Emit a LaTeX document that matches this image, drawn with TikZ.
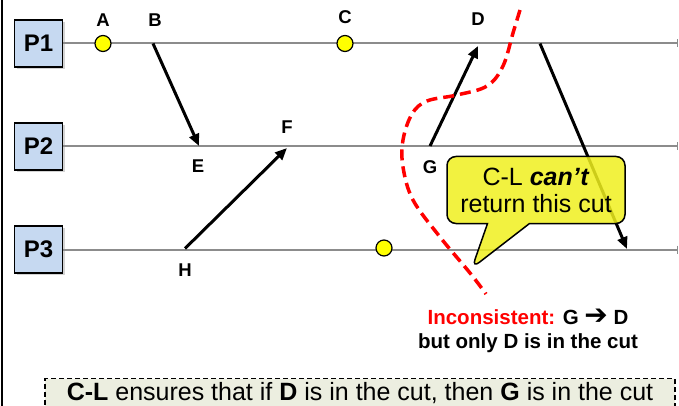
\documentclass[tikz,border=0pt]{standalone}
\usepackage{fontspec}
\setmainfont{Liberation Sans}
\newfontfamily\arrowfont{DejaVu Sans}
\usetikzlibrary{arrows.meta,shapes.callouts,shadows}
\definecolor{CLBlue}  {HTML}{C6D9F1}
\definecolor{CLYellow}{HTML}{F0F01E}
\definecolor{CLDot}   {HTML}{FFFF00}
\definecolor{CLGray}  {HTML}{8C8C8C}
\definecolor{CLRed}   {HTML}{FF0000}
\definecolor{CLNote}  {HTML}{ECEEE0}

\begin{document}
\begin{tikzpicture}[x=1pt,y=-1pt,
    proc/.style={draw=black,line width=1.5pt,fill=CLBlue,minimum width=48pt,minimum height=47pt,
      font=\fontsize{24}{26}\selectfont\bfseries,
      drop shadow={shadow xshift=2pt,shadow yshift=-2pt,opacity=0.35}},
    tl/.style={CLGray,line width=2pt,-{Bar[width=8pt,line width=1.2pt]}},
    msg/.style={-{Triangle[length=12pt,width=10pt]},line width=3pt},
    ev/.style={circle,draw=black,line width=1.2pt,fill=CLDot,inner sep=0pt,minimum size=16pt},
    lbl/.style={font=\fontsize{18.5}{20}\selectfont\bfseries,inner sep=0pt},
    cut/.style={CLRed,line width=3.5pt,dash pattern=on 11pt off 6pt},
    bubble/.style={rectangle callout,draw=black,line width=1.5pt,fill=CLYellow,fill opacity=0.85,
      text opacity=1,rounded corners=9pt,align=center,minimum width=178pt,minimum height=67pt,
      font=\fontsize{25}{27}\selectfont,callout pointer width=42pt},
    note/.style={draw=black,line width=1.3pt,dash pattern=on 5pt off 3pt,fill=CLNote,
      minimum width=630pt,text height=19pt,text depth=6pt,inner ysep=3pt,
      font=\fontsize{25}{28}\selectfont}
  ]
    \useasboundingbox (0,0) rectangle (679,406);
    \draw[line width=2pt] (2,0) -- (2,406);
    % processes and their timelines
    \node[proc] (P1) at (38.5,43.5)  {P1};
    \node[proc] (P2) at (38.5,146.5) {P2};
    \node[proc] (P3) at (38.5,249.5) {P3};
    \coordinate (end1) at (678,43.5);
    \coordinate (end2) at (678,146.5);
    \coordinate (end3) at (678,249.5);
    \draw[tl] (P1) -- (end1);
    \draw[tl] (P2) -- (end2);
    \draw[tl] (P3) -- (end3);
    % events
    \coordinate (b) at (153,43.5);
    \coordinate (e) at (199,146);
    \coordinate (h) at (185,248.5);
    \coordinate (f) at (287,148);
    \coordinate (g) at (430,146);
    \coordinate (d) at (478,46);
    \coordinate (s1) at (540,43.5);
    \coordinate (r3) at (627,249);
    \node[ev] (a) at (103,43.5) {};
    \node[ev] (c) at (345,43.5) {};
    \node[ev] (p3e) at (384,248) {};
    \node[lbl] (lA) at (103,20)  {A};
    \node[lbl] (lB) at (155,20)  {B};
    \node[lbl] (lC) at (345,17)  {C};
    \node[lbl] (lD) at (478,19)  {D};
    \node[lbl] (lE) at (198,166) {E};
    \node[lbl] (lF) at (287,127) {F};
    \node[lbl] (lG) at (430,167) {G};
    \node[lbl] (lH) at (185,270) {H};
    % messages
    \draw[msg] (b) -- (e);
    \draw[msg] (h) -- (f);
    \draw[msg] (g) -- (d);
    \draw[msg] (s1) -- (r3);
    % the cut
    \draw[cut] plot[smooth,tension=0.6] coordinates {(520,10) (513,33) (503,66) (487,86)
      (457,95) (427,101) (412,114) (403,140) (403,167) (413,200) (440,237) (470,273) (486,294)};
    \node[bubble,callout absolute pointer={(472,268)}] (cl) at (536,190)
      {C-L \textbf{\textit{can’t}}\\return this cut};
    \node[font=\fontsize{20.5}{24}\selectfont\bfseries,align=center] (why) at (528,331)
      {\textcolor{CLRed}{Inconsistent:} G {\arrowfont\fontsize{28}{24}\selectfont ➔} D\\but only D is in the cut};
    \node[note,anchor=north] (rule) at (360,378)
      {\textbf{C-L} ensures that if \textbf{D} is in the cut, then \textbf{G} is in the cut};
  \end{tikzpicture}
\end{document}
